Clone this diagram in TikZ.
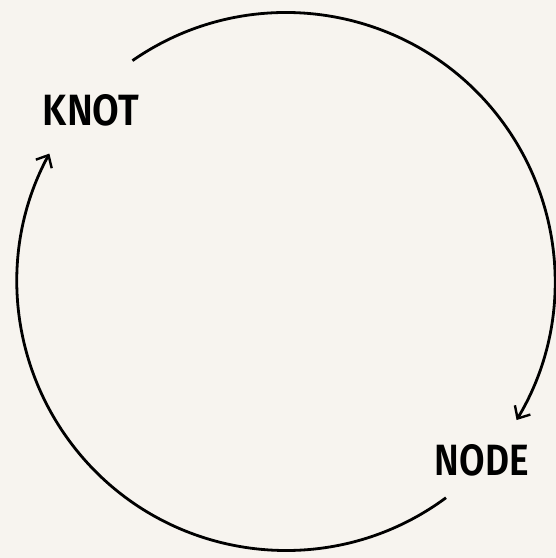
\documentclass[tikz,border=0pt]{standalone}
\usepackage{fontspec}
\setmainfont{Fira Sans}
\usetikzlibrary{arrows.meta,calc}
\definecolor{bg}{RGB}{247,244,239}
\begin{document}
\begin{tikzpicture}[x=1pt,y=1pt,
  lbl/.style={inner sep=0pt, font=\fontspec{Fira Sans SemiBold}},
  cyc/.style={line width=2.8pt, -{Straight Barb[length=10pt,width=18pt,line width=2.4pt]}}]
\fill[bg] (0,0) rectangle (556,558);
\useasboundingbox (0,0) rectangle (556,558);
\coordinate (c) at (286,276.5);
\node[lbl] (knot) at (91,447.5) {\resizebox{96pt}{31pt}{KNOT}};
\node[lbl] (node) at (482,97.5) {\resizebox{94pt}{31pt}{NODE}};
\coordinate (k1) at ($(c)+(124.8:269)$);
\coordinate (n1) at ($(c)+(-53.5:269)$);
\draw[cyc] (k1) arc[start angle=124.8, end angle=-31, radius=269];
\draw[cyc] (n1) arc[start angle=-53.5, end angle=-208.4, radius=269];
\end{tikzpicture}
\end{document}
